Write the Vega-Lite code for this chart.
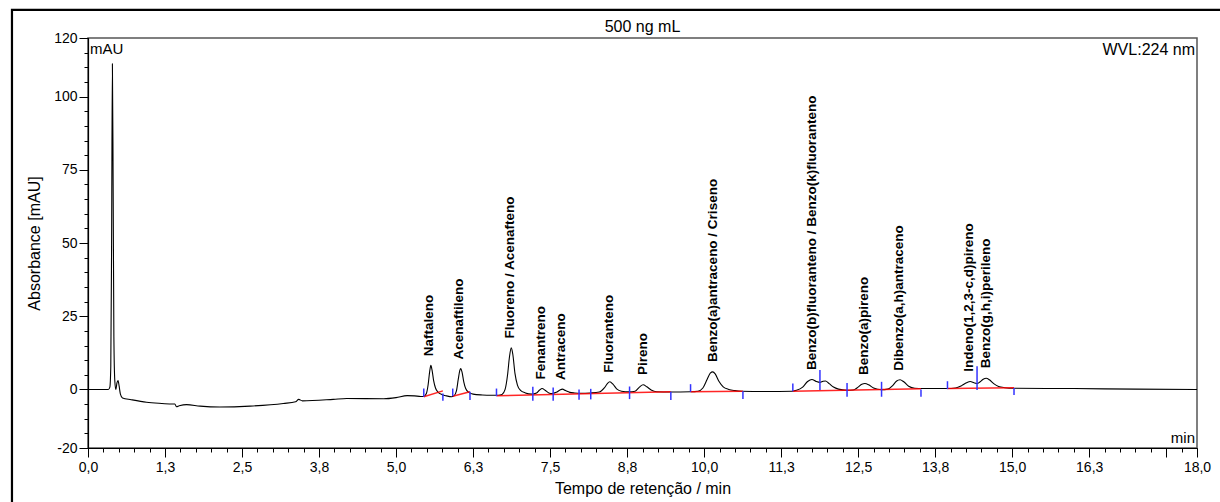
{
  "$schema": "https://vega.github.io/schema/vega-lite/v6.json",
  "width": 1109,
  "height": 410,
  "autosize": {"type": "none"},
  "padding": {"left": 88, "top": 38, "right": 23, "bottom": 54},
  "background": "white",
  "config": {
    "font": "Liberation Sans",
    "view": {"stroke": "#555555", "strokeWidth": 1.5},
    "axis": {"grid": false, "domainColor": "black", "tickColor": "black", "labelColor": "black", "titleColor": "black", "labelFont": "Liberation Sans", "titleFont": "Liberation Sans", "titleFontWeight": "normal", "labelFlush": false, "labelOverlap": false}
  },
  "datasets": {
    "chrom": [
      {"t": 0.00, "v": 0}, {"t": 0.20, "v": 0}, {"t": 0.33, "v": 0}, {"t": 0.355, "v": 0.8}, {"t": 0.37, "v": 8},
      {"t": 0.383, "v": 50}, {"t": 0.396, "v": 111.2}, {"t": 0.408, "v": 70}, {"t": 0.42, "v": 18}, {"t": 0.435, "v": 3},
      {"t": 0.452, "v": 0}, {"t": 0.47, "v": 2.2}, {"t": 0.488, "v": 3.0}, {"t": 0.505, "v": 1.2}, {"t": 0.525, "v": -1.5},
      {"t": 0.56, "v": -2.9}, {"t": 0.70, "v": -3.5}, {"t": 0.95, "v": -4.4}, {"t": 1.20, "v": -4.8}, {"t": 1.38, "v": -5.0},
      {"t": 1.41, "v": -5.0}, {"t": 1.435, "v": -5.9}, {"t": 1.48, "v": -5.6}, {"t": 1.60, "v": -5.2}, {"t": 1.82, "v": -5.7},
      {"t": 2.14, "v": -6.0}, {"t": 2.63, "v": -5.7}, {"t": 3.17, "v": -4.8}, {"t": 3.37, "v": -4.2}, {"t": 3.42, "v": -3.4},
      {"t": 3.48, "v": -3.9}, {"t": 3.98, "v": -3.4}, {"t": 4.20, "v": -3.1}, {"t": 4.80, "v": -3.2}, {"t": 5.00, "v": -2.8},
      {"t": 5.18, "v": -2.1}, {"t": 5.30, "v": -2.2}, {"t": 5.40, "v": -2.4}, {"t": 5.45, "v": -2.4}, {"t": 5.49, "v": -1.5},
      {"t": 5.52, "v": 1.5}, {"t": 5.545, "v": 6.0}, {"t": 5.565, "v": 8.2}, {"t": 5.585, "v": 6.5}, {"t": 5.61, "v": 3.0},
      {"t": 5.64, "v": 0.5}, {"t": 5.68, "v": -0.9}, {"t": 5.75, "v": -1.8}, {"t": 5.82, "v": -2.2}, {"t": 5.90, "v": -2.5},
      {"t": 5.94, "v": -2.2}, {"t": 5.98, "v": -0.5}, {"t": 6.01, "v": 3.5}, {"t": 6.035, "v": 6.5}, {"t": 6.05, "v": 7.1},
      {"t": 6.07, "v": 6.0}, {"t": 6.10, "v": 2.5}, {"t": 6.13, "v": 0.3}, {"t": 6.18, "v": -1.0}, {"t": 6.25, "v": -1.6},
      {"t": 6.40, "v": -1.9}, {"t": 6.55, "v": -2.0}, {"t": 6.66, "v": -2.0}, {"t": 6.72, "v": -1.7}, {"t": 6.77, "v": 0.0},
      {"t": 6.81, "v": 5.0}, {"t": 6.84, "v": 11.0}, {"t": 6.87, "v": 14.2}, {"t": 6.895, "v": 12.0}, {"t": 6.93, "v": 5.5},
      {"t": 6.97, "v": 1.5}, {"t": 7.02, "v": -0.3}, {"t": 7.10, "v": -1.2}, {"t": 7.20, "v": -1.6}, {"t": 7.28, "v": -1.2},
      {"t": 7.33, "v": -0.2}, {"t": 7.37, "v": 0.3}, {"t": 7.42, "v": -0.3}, {"t": 7.48, "v": -1.2}, {"t": 7.53, "v": -1.4},
      {"t": 7.60, "v": -1.0}, {"t": 7.66, "v": -0.2}, {"t": 7.70, "v": 0.1}, {"t": 7.75, "v": -0.4}, {"t": 7.82, "v": -1.0},
      {"t": 7.90, "v": -1.2}, {"t": 8.00, "v": -1.3}, {"t": 8.15, "v": -1.2}, {"t": 8.30, "v": -0.9}, {"t": 8.38, "v": 0.5},
      {"t": 8.43, "v": 2.0}, {"t": 8.47, "v": 2.6}, {"t": 8.52, "v": 1.8}, {"t": 8.58, "v": 0.2}, {"t": 8.66, "v": -0.6},
      {"t": 8.78, "v": -0.8}, {"t": 8.88, "v": -0.6}, {"t": 8.95, "v": 0.8}, {"t": 9.01, "v": 1.6}, {"t": 9.07, "v": 0.9},
      {"t": 9.14, "v": -0.2}, {"t": 9.23, "v": -0.8}, {"t": 9.45, "v": -0.9}, {"t": 9.78, "v": -0.8}, {"t": 9.90, "v": -0.6},
      {"t": 9.98, "v": 0.5}, {"t": 10.05, "v": 3.5}, {"t": 10.10, "v": 5.6}, {"t": 10.14, "v": 6.0}, {"t": 10.18, "v": 5.3},
      {"t": 10.24, "v": 2.8}, {"t": 10.31, "v": 0.9}, {"t": 10.40, "v": 0.0}, {"t": 10.50, "v": -0.4}, {"t": 10.61, "v": -0.6},
      {"t": 11.00, "v": -0.7}, {"t": 11.43, "v": -0.6}, {"t": 11.50, "v": -0.3}, {"t": 11.60, "v": 0.8}, {"t": 11.68, "v": 2.7},
      {"t": 11.75, "v": 3.4}, {"t": 11.82, "v": 2.7}, {"t": 11.88, "v": 2.4}, {"t": 11.93, "v": 2.8}, {"t": 11.97, "v": 2.9},
      {"t": 12.03, "v": 2.0}, {"t": 12.10, "v": 0.8}, {"t": 12.18, "v": 0.1}, {"t": 12.32, "v": -0.3}, {"t": 12.42, "v": -0.2},
      {"t": 12.50, "v": 0.8}, {"t": 12.56, "v": 1.8}, {"t": 12.61, "v": 2.0}, {"t": 12.67, "v": 1.6}, {"t": 12.75, "v": 0.5},
      {"t": 12.88, "v": -0.1}, {"t": 12.98, "v": 0.1}, {"t": 13.06, "v": 1.3}, {"t": 13.12, "v": 2.8}, {"t": 13.18, "v": 3.3},
      {"t": 13.24, "v": 2.6}, {"t": 13.32, "v": 1.1}, {"t": 13.42, "v": 0.4}, {"t": 13.55, "v": 0.3}, {"t": 13.94, "v": 0.3},
      {"t": 14.08, "v": 0.5}, {"t": 14.18, "v": 1.3}, {"t": 14.26, "v": 2.3}, {"t": 14.32, "v": 2.7}, {"t": 14.38, "v": 2.3},
      {"t": 14.43, "v": 2.0}, {"t": 14.48, "v": 2.6}, {"t": 14.53, "v": 3.5}, {"t": 14.58, "v": 3.8}, {"t": 14.63, "v": 3.3},
      {"t": 14.70, "v": 2.0}, {"t": 14.78, "v": 1.0}, {"t": 14.88, "v": 0.6}, {"t": 15.03, "v": 0.4}, {"t": 16.00, "v": 0.3},
      {"t": 17.00, "v": 0.1}, {"t": 18.00, "v": 0.0}
    ],
    "base": [
      {"seg": 1, "t": 5.45, "v": -2.5}, {"seg": 1, "t": 5.76, "v": -0.5},
      {"seg": 2, "t": 5.92, "v": -2.3}, {"seg": 2, "t": 6.20, "v": -0.8},
      {"seg": 3, "t": 6.63, "v": -2.2}, {"seg": 3, "t": 9.46, "v": -0.8},
      {"seg": 4, "t": 9.78, "v": -0.8}, {"seg": 4, "t": 10.63, "v": -0.6},
      {"seg": 5, "t": 11.44, "v": -0.6}, {"seg": 5, "t": 13.52, "v": 0.2},
      {"seg": 6, "t": 13.95, "v": 0.3}, {"seg": 6, "t": 15.03, "v": 0.6}
    ],
    "marks": [
      {"t": 5.45, "lo": -2.5, "hi": 0.3}, {"t": 5.76, "lo": -3.9, "hi": -1.4},
      {"t": 5.92, "lo": -2.3, "hi": 0.3}, {"t": 6.20, "lo": -3.6, "hi": -0.8},
      {"t": 6.63, "lo": -2.3, "hi": 0.3}, {"t": 7.22, "lo": -3.9, "hi": 0.9},
      {"t": 7.55, "lo": -3.9, "hi": 0.7}, {"t": 7.97, "lo": -3.5, "hi": 0.0},
      {"t": 8.16, "lo": -3.4, "hi": 0.2}, {"t": 8.79, "lo": -3.3, "hi": 1.0},
      {"t": 9.46, "lo": -3.6, "hi": -0.8}, {"t": 9.78, "lo": -0.8, "hi": 1.8},
      {"t": 10.63, "lo": -3.3, "hi": -0.6}, {"t": 11.44, "lo": -0.6, "hi": 2.0},
      {"t": 11.88, "lo": -0.2, "hi": 6.6}, {"t": 12.32, "lo": -2.5, "hi": 2.2},
      {"t": 12.88, "lo": -2.5, "hi": 2.6}, {"t": 13.52, "lo": -2.5, "hi": 0.0},
      {"t": 13.95, "lo": 0.1, "hi": 2.8}, {"t": 14.43, "lo": -0.2, "hi": 7.9},
      {"t": 15.03, "lo": -1.9, "hi": 0.5}
    ],
    "labels": [
      {"name": "Naftaleno", "t": 5.54, "v": 11.3},
      {"name": "Acenaftileno", "t": 6.02, "v": 10.2},
      {"name": "Fluoreno / Acenafteno", "t": 6.85, "v": 17.4},
      {"name": "Fenantreno", "t": 7.35, "v": 3.4},
      {"name": "Antraceno", "t": 7.68, "v": 3.2},
      {"name": "Fluoranteno", "t": 8.45, "v": 5.7},
      {"name": "Pireno", "t": 9.01, "v": 4.9},
      {"name": "Benzo(a)antraceno / Criseno", "t": 10.14, "v": 9.4},
      {"name": "Benzo(b)fluoranteno / Benzo(k)fluoranteno", "t": 11.75, "v": 6.6},
      {"name": "Benzo(a)pireno", "t": 12.59, "v": 4.9},
      {"name": "Dibenzo(a,h)antraceno", "t": 13.16, "v": 6.4},
      {"name": "Indeno(1,2,3-c,d)pireno", "t": 14.30, "v": 6.0},
      {"name": "Benzo(g,h,i)perileno", "t": 14.57, "v": 7.2}
    ]
  },
  "layer": [
    {
      "data": {"values": [{}]},
      "mark": {"type": "rect", "fill": null, "fillOpacity": 0, "stroke": "black", "strokeWidth": 2.2, "clip": false},
      "encoding": {
        "x": {"datum": -1.234, "type": "quantitative", "axis": null},
        "x2": {"datum": 18.6},
        "y": {"datum": 129.6, "type": "quantitative", "axis": null},
        "y2": {"datum": -38.8}
      }
    },
    {
      "data": {"name": "chrom"},
      "mark": {"type": "line", "color": "black", "strokeWidth": 1.1, "interpolate": "monotone"},
      "encoding": {
        "x": {"field": "t", "type": "quantitative", "scale": {"domain": [0, 18], "nice": false, "zero": false},
          "axis": {"orient": "bottom", "values": [0, 1.25, 2.5, 3.75, 5, 6.25, 7.5, 8.75, 10, 11.25, 12.5, 13.75, 15, 16.25, 17.5, 18],
            "labelExpr": "datum.value == 17.5 ? '' : replace(format(datum.value, '.1f'), '.', ',')",
            "tickSize": 9, "labelPadding": 3, "labelFontSize": 14, "title": "Tempo de retenção / min", "titleFontSize": 16, "titlePadding": 6, "domainWidth": 1.2}},
        "y": {"field": "v", "type": "quantitative", "scale": {"domain": [-20, 120], "nice": false, "zero": false},
          "axis": {"orient": "left", "values": [-20, 0, 25, 50, 75, 100, 120], "labelExpr": "'' + datum.value", "tickSize": 9, "labelPadding": 2, "labelFontSize": 14,
            "title": "Absorbance [mAU]", "titleFontSize": 16, "titlePadding": 11, "domainWidth": 1.2}}
      }
    },
    {
      "data": {"name": "base"},
      "mark": {"type": "line", "color": "#ff0000", "strokeWidth": 1.5, "opacity": 0.85},
      "encoding": {
        "x": {"field": "t", "type": "quantitative",
          "axis": {"orient": "bottom", "values": [0, 0.25, 0.5, 0.75, 1, 1.25, 1.5, 1.75, 2, 2.25, 2.5, 2.75, 3, 3.25, 3.5, 3.75, 4, 4.25, 4.5, 4.75, 5, 5.25, 5.5, 5.75, 6, 6.25, 6.5, 6.75, 7, 7.25, 7.5, 7.75, 8, 8.25, 8.5, 8.75, 9, 9.25, 9.5, 9.75, 10, 10.25, 10.5, 10.75, 11, 11.25, 11.5, 11.75, 12, 12.25, 12.5, 12.75, 13, 13.25, 13.5, 13.75, 14, 14.25, 14.5, 14.75, 15, 15.25, 15.5, 15.75, 16, 16.25, 16.5, 16.75, 17, 17.25, 17.5, 17.75, 18],
            "labels": false, "domain": false, "tickSize": 4, "title": null}},
        "y": {"field": "v", "type": "quantitative",
          "axis": {"orient": "left", "values": [-20, -15, -10, -5, 0, 5, 10, 15, 20, 25, 30, 35, 40, 45, 50, 55, 60, 65, 70, 75, 80, 85, 90, 95, 100, 105, 110, 115, 120],
            "labels": false, "domain": false, "tickSize": 4, "title": null}},
        "detail": {"field": "seg", "type": "nominal"}
      }
    },
    {
      "data": {"name": "marks"},
      "mark": {"type": "rule", "color": "#3333ff", "strokeWidth": 1.5},
      "encoding": {
        "x": {"field": "t", "type": "quantitative", "axis": null},
        "y": {"field": "lo", "type": "quantitative", "axis": null},
        "y2": {"field": "hi"}
      }
    },
    {
      "data": {"name": "labels"},
      "mark": {"type": "text", "angle": 270, "align": "left", "baseline": "middle", "fontWeight": "bold", "fontSize": 13.5, "font": "Liberation Sans", "color": "black"},
      "encoding": {
        "x": {"field": "t", "type": "quantitative", "axis": null},
        "y": {"field": "v", "type": "quantitative", "axis": null},
        "text": {"field": "name"}
      }
    },
    {
      "data": {"values": [{}]},
      "mark": {"type": "text", "align": "center", "baseline": "bottom", "dy": -3, "fontSize": 16, "color": "black", "clip": false},
      "encoding": {
        "x": {"datum": 9, "type": "quantitative", "axis": null},
        "y": {"datum": 120, "type": "quantitative", "axis": null},
        "text": {"value": "500 ng mL"}
      }
    },
    {
      "data": {"values": [{}]},
      "mark": {"type": "text", "align": "left", "baseline": "top", "dx": 2, "dy": 4, "fontSize": 15, "color": "black"},
      "encoding": {
        "x": {"datum": 0, "type": "quantitative", "axis": null},
        "y": {"datum": 120, "type": "quantitative", "axis": null},
        "text": {"value": "mAU"}
      }
    },
    {
      "data": {"values": [{}]},
      "mark": {"type": "text", "align": "right", "baseline": "top", "dx": -2, "dy": 4, "fontSize": 16, "color": "black"},
      "encoding": {
        "x": {"datum": 18, "type": "quantitative", "axis": null},
        "y": {"datum": 120, "type": "quantitative", "axis": null},
        "text": {"value": "WVL:224 nm"}
      }
    },
    {
      "data": {"values": [{}]},
      "mark": {"type": "text", "align": "right", "baseline": "bottom", "dx": -2, "dy": -2, "fontSize": 15, "color": "black"},
      "encoding": {
        "x": {"datum": 18, "type": "quantitative", "axis": null},
        "y": {"datum": -20, "type": "quantitative", "axis": null},
        "text": {"value": "min"}
      }
    }
  ],
  "resolve": {"axis": {"x": "independent", "y": "independent"}}
}
